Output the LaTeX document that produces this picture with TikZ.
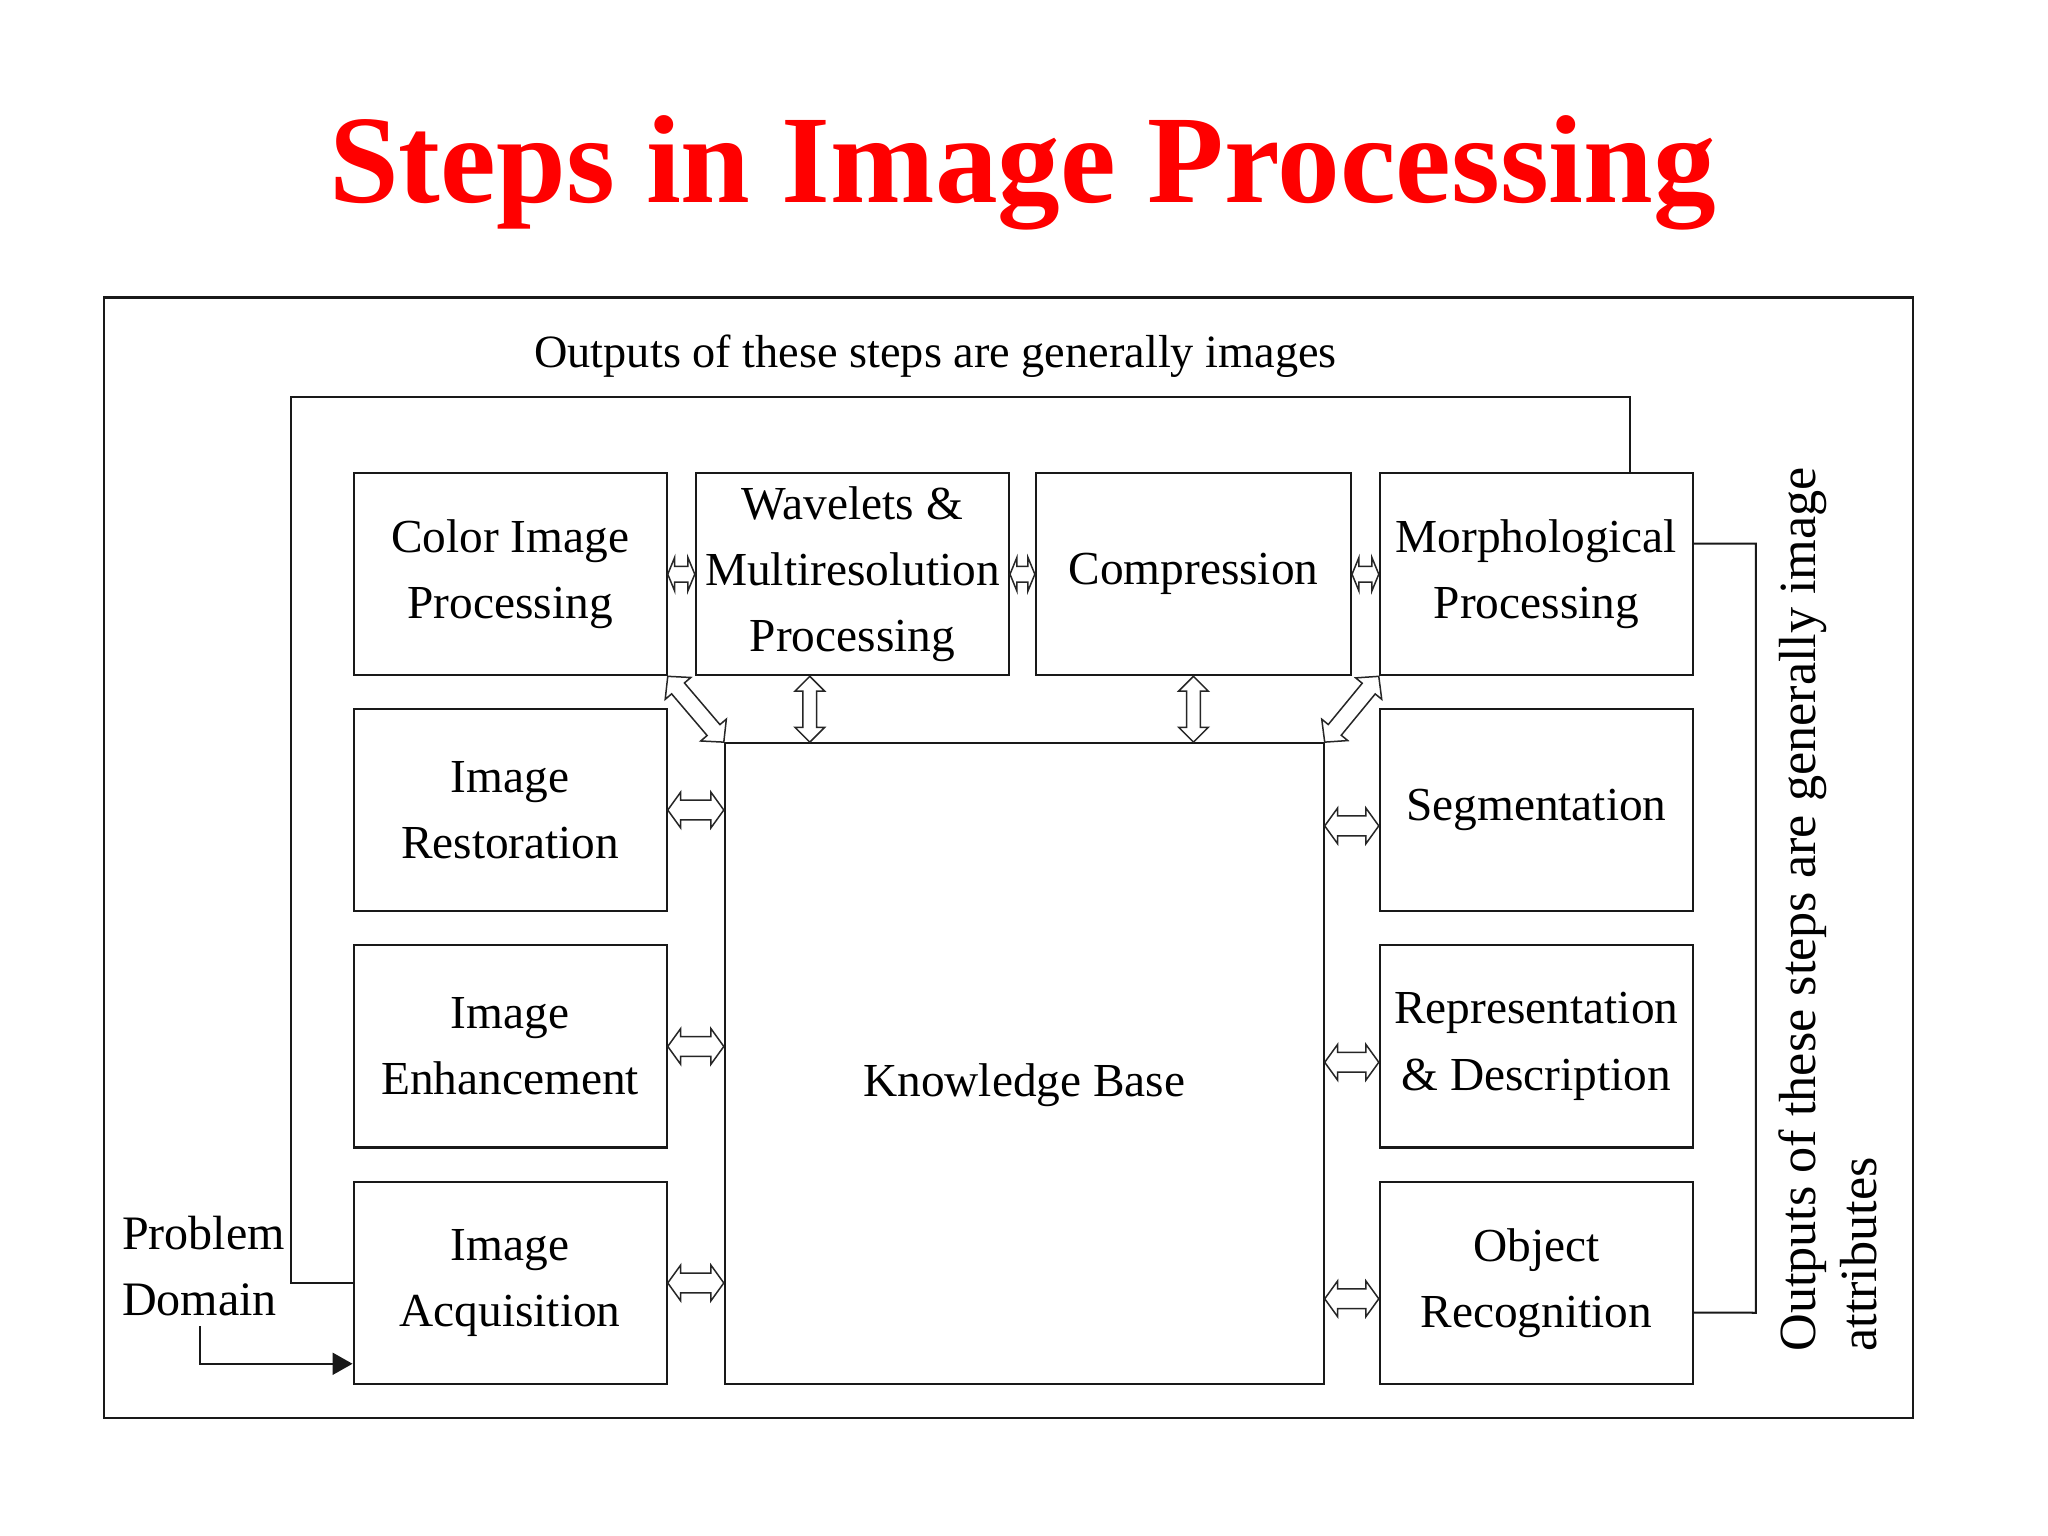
\documentclass[tikz,border=0pt]{standalone}
\usepackage{fontspec}
\setmainfont{Liberation Serif}
\usetikzlibrary{calc,arrows.meta}
\tikzset{
  dbl/.style n args={3}{to path={
    -- ($($(\tikztostart)!#1!(\tikztotarget)$)!#2!90:(\tikztotarget)$)
    -- ($($(\tikztostart)!#1!(\tikztotarget)$)!#3!90:(\tikztotarget)$)
    -- ($($(\tikztotarget)!#1!(\tikztostart)$)!#3!-90:(\tikztostart)$)
    -- ($($(\tikztotarget)!#1!(\tikztostart)$)!#2!-90:(\tikztostart)$)
    -- (\tikztotarget)
    -- ($($(\tikztotarget)!#1!(\tikztostart)$)!#2!90:(\tikztostart)$)
    -- ($($(\tikztotarget)!#1!(\tikztostart)$)!#3!90:(\tikztostart)$)
    -- ($($(\tikztostart)!#1!(\tikztotarget)$)!#3!-90:(\tikztotarget)$)
    -- ($($(\tikztostart)!#1!(\tikztotarget)$)!#2!-90:(\tikztotarget)$)
    -- cycle
  }},
}
\begin{document}
\begin{tikzpicture}[x=0.01cm,y=-0.01cm,scale=0.99,transform shape,
  box/.style={draw=black!90, line width=0.022cm, minimum width=3.16cm, minimum height=2.04cm,
    inner sep=0pt, align=center, font=\fontsize{13.6pt}{19pt}\selectfont},
  ln/.style={draw=black!90, line width=0.02cm},
  ha/.style={draw=black!85, line width=0.015cm, fill=white, line join=miter},
  small/.style={dbl={0.07cm}{0.17cm}{0.08cm}},
  mid/.style={dbl={0.13cm}{0.18cm}{0.10cm}},
  vert/.style={dbl={0.15cm}{0.15cm}{0.07cm}},
  diag/.style={dbl={0.16cm}{0.17cm}{0.085cm}},
  txt/.style={inner sep=0pt, font=\fontsize{13.8pt}{19pt}\selectfont}]
\useasboundingbox[fill=white] (0,0) rectangle (2068.7,1551.5);

\node[font=\fontsize{36pt}{40pt}\selectfont\bfseries, text=red, anchor=base] (title) at (1033,205) {Steps in Image Processing};

\node[draw=black!90, line width=0.025cm, minimum width=18.263cm, minimum height=11.309cm, inner sep=0pt] (frame) at (1018.75,866.35) {};

\node[font=\fontsize{13.3pt}{16pt}\selectfont, inner sep=0pt] (topt) at (945,360) {Outputs of these steps are generally images};

\node[rotate=90, anchor=north west, align=left, inner sep=0pt, font=\fontsize{15pt}{17.6pt}\selectfont] (rtxt) at (1796,1366) {Outputs of these steps are generally image\\attributes};

\node[txt, anchor=west, align=left] (pd) at (122.7,1279) {Problem\\Domain};

\node[box] (cip) at (515.3,580) {Color Image\\Processing};
\node[box] (wav) at (861,580) {Wavelets \&\\Multiresolution\\Processing};
\node[box, minimum width=3.18cm] (com) at (1205.5,580) {Compression};
\node[box] (mor) at (1551.9,580) {Morphological\\Processing};
\node[box] (res) at (515.3,818.2) {Image\\Restoration};
\node[box] (seg) at (1551.9,818.2) {Segmentation};
\node[box] (enh) at (515.3,1057) {Image\\Enhancement};
\node[box] (rep) at (1551.9,1057) {Representation\\\& Description};
\node[box] (acq) at (515.3,1295.9) {Image\\Acquisition};
\node[box] (obj) at (1551.9,1295.9) {Object\\Recognition};
\node[box, minimum width=6.044cm, minimum height=6.466cm, text height=22pt, text depth=3pt] (kb) at (1034.6,1074.2) {Knowledge Base};

% loops
\coordinate (lt) at (294.3,401.2);
\coordinate (rt) at (1773.6,1326);
\coordinate (pdo) at (201.9,1339.4);
\draw[ln] (acq.west) -| (lt) -| ([xshift=0.95cm]mor.north);
\draw[ln] ([yshift=0.31cm]mor.east) -| (rt) -- ([yshift=-0.30cm]obj.east);
\draw[ln, -{Triangle[length=0.2cm,width=0.22cm]}] (pdo) |- ([yshift=0.215cm]acq.south west);

% endpoints
\coordinate (kres) at (res.east -| kb.west);
\coordinate (kenh) at (enh.east -| kb.west);
\coordinate (kacq) at (acq.east -| kb.west);
\coordinate (sego) at ([yshift=-0.16cm]seg.west);
\coordinate (repo) at ([yshift=-0.16cm]rep.west);
\coordinate (objo) at ([yshift=-0.16cm]obj.west);
\coordinate (kseg) at (sego -| kb.east);
\coordinate (krep) at (repo -| kb.east);
\coordinate (kobj) at (objo -| kb.east);
\coordinate (wavo) at ([xshift=-0.43cm]wav.south);
\coordinate (kwav) at (wavo |- kb.north);
\coordinate (kcom) at (com.south |- kb.north);

% hollow double arrows
\draw[ha, small] (cip.east) to (wav.west);
\draw[ha, small] (wav.east) to (com.west);
\draw[ha, small] (com.east) to (mor.west);
\draw[ha, mid] (res.east) to (kres);
\draw[ha, mid] (enh.east) to (kenh);
\draw[ha, mid] (acq.east) to (kacq);
\draw[ha, mid] (kseg) to (sego);
\draw[ha, mid] (krep) to (repo);
\draw[ha, mid] (kobj) to (objo);
\draw[ha, vert] (wavo) to (kwav);
\draw[ha, vert] (com.south) to (kcom);
\draw[ha, diag] (cip.south east) to (kb.north west);
\draw[ha, diag] (mor.south west) to (kb.north east);
\end{tikzpicture}
\end{document}
